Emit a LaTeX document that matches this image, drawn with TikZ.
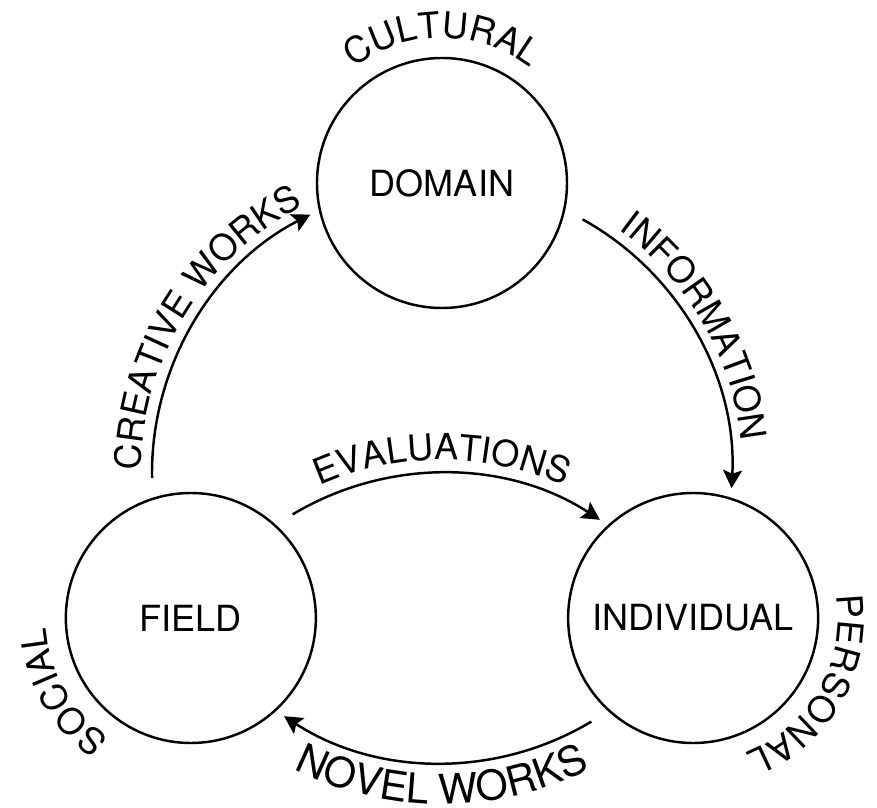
\documentclass[tikz,border=0pt]{standalone}
\usepackage{fontspec}
\setmainfont{TeX Gyre Heros}
\usepackage{tikz}
\usetikzlibrary{arrows.meta,calc,decorations.text}

\newcommand{\ringfont}{\fontsize{20.5pt}{24pt}\selectfont}
\newcommand{\lowfont}{\fontsize{23.5pt}{28pt}\selectfont}

\begin{document}
\begin{tikzpicture}[
  sphere/.style={draw, circle, line width=1.4pt, minimum size=5cm, inner sep=0pt, font=\ringfont},
  flow/.style={line width=1.4pt, -{Stealth[length=0.36cm, width=0.38cm, inset=0.07cm]}, bend left=32, looseness=0.92},
  curved/.style={decorate, decoration={text along path, text align=center, text={|\ringfont|#1}}},
  lowcurved/.style={decorate, decoration={text along path, text align=center, text={|\lowfont|#1}}}
]
\useasboundingbox (-8.84,-6.70) rectangle (8.70,9.46);
\coordinate (hub) at (0,0);
\coordinate (mirror) at (0,-5.8);
\node[sphere] (domain) at (90:5.8) {DOMAIN};
\node[sphere] (field) at (210:5.8) {FIELD};
\node[sphere] (individual) at (330:5.8) {INDIVIDUAL};
\coordinate (creative start) at (181:5.8);
\coordinate (creative end) at (117:5.8);
\coordinate (information start) at (61:5.8);
\coordinate (information end) at (-3:5.8);
\coordinate (novel start) at (-59:5.8);
\coordinate (novel end) at (-123:5.8);
\coordinate (evaluation start) at ($(mirror)+(121:5.8)$);
\coordinate (evaluation end) at ($(mirror)+(57:5.8)$);
\draw[flow] (creative start) to (creative end);
\draw[flow] (information start) to (information end);
\draw[flow] (novel start) to (novel end);
\draw[flow] (evaluation start) to (evaluation end);
\path[curved=CULTURAL] (domain.center) ++(160:2.9) arc[start angle=160, end angle=20, radius=2.9];
\path[curved=SOCIAL] (field.center) ++(280:2.9) arc[start angle=280, end angle=140, radius=2.9];
\path[curved=PERSONAL] (individual.center) ++(40:2.9) arc[start angle=40, end angle=-100, radius=2.9];
\path[curved=EVALUATIONS] (mirror) ++(130:6.06) arc[start angle=130, end angle=50, radius=6.06];
\path[lowcurved=NOVEL WORKS] (hub) ++(-140:6.62) arc[start angle=-140, end angle=-40, radius=6.62];
\path[curved=CREATIVE WORKS] (hub) ++(190:6.02) arc[start angle=190, end angle=107, radius=6.02];
\path[curved=INFORMATION] (hub) ++(71:6.02) arc[start angle=71, end angle=-11, radius=6.02];
\end{tikzpicture}
\end{document}
